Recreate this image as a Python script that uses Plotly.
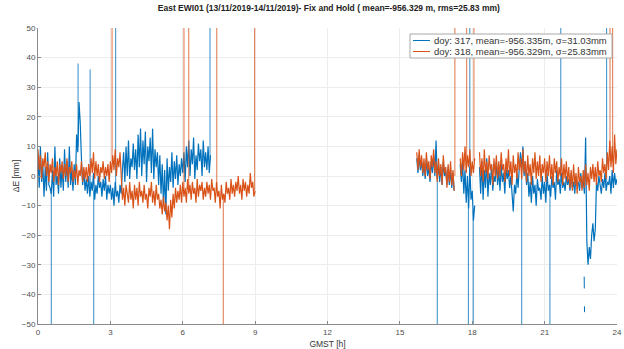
import plotly.graph_objects as go

# ---------------- data (mm), sampled every 0.05 h ----------------
STEP_H = 0.05
LEFT_START_H = 0.0
RIGHT_START_H = 15.70

# doy 318 (orange), 0.00 - 9.00 h
ORANGE_L = [
    9, 2, 7, -1, 6, 3, 8, 0, 5, -2, 4, 1, 6, -2, 3, 0, 5, -3, 4, 1,
    5, -1, 4, 0, 6, -2, 3, 1, 5, -2, 2, -1, 4, -3, 2, 0, 5, -2, 3, -1,
    3, -2, 4, 0, 6, 1, 8, -1, 5, 0, 4, -2, 3, 1, 5, -1, 3, 0, 4, -2,
    5, 1, 7, 2, 9, 0, 6, 3, 8, 1, -8, -4, -10, -3, -7, -9, -2, -8, -5, -11,
    -3, -8, -4, -10, -2, -7, -5, -9, -3, -8, -6, -11, -4, -7, -2, -9, -5, -10, -3, -8,
    -6, -11, -8, -13, -7, -12, -9, -15, -10, -18, -8, -14, -6, -11, -4, -9, -5, -8, -3, -9,
    -2, -7, -4, -9, -1, -6, -3, -8, -2, -6, -4, -9, -1, -7, -3, -5, -2, -8, -4, -7,
    -2, -6, -3, -8, -1, -5, -4, -9, -2, -7, -5, -11, -3, -8, -6, -9, -2, -6, -4, -8,
    -1, -6, -3, -7, -2, -5, 0, -6, -3, -8, -1, -5, -2, -7, -3, -6, 1, -4, -2, -7, -5,
]

# doy 317 (blue), 0.00 - 7.15 h
BLUE_L = [
    6, -4, 10, -2, 4, -7, 3, -5, 8, -3, -4, -6, 2, -7, 10, -3, 0, -6, 6, -4,
    3, -5, 9, -2, 5, -4, 10, -3, 2, -5, 4, -3, 14, 8, 25, 18, 6, -3, 2, -5,
    -1, -6, 0, -7, -2, -5, 1, -8, -3, -6, 0, -4, -2, -7, -1, -5, 0, -8, -3, -6,
    -3, -8, -4, -10, -2, -7, -5, -9, -3, -6, 2, 8, -2, 10, 0, 12, -1, 6, 3, 11,
    2, 9, -1, 14, 3, 16, 0, 12, 4, 15, -2, 10, 5, 13, 1, 16, -1, 9, 3, 8,
    -3, 7, -6, 4, -10, 2, -13, 6, -5, 3, -2, 8, -4, 5, -1, 7, -3, 4, 0, 6,
    1, 8, -2, 10, 3, 12, 0, 9, 4, 13, -1, 7, 2, 11, 5, 9, 0, 12, 3, 8,
    2, 10, 1, 7,
]

# doy 318 (orange), 15.70 - 24.00 h
ORANGE_R = [
    8, 2, 9, 3, 7, 1,
    6, 0, 8, 2, 5, -1, 7, 3, 9, 1, 5, -2, 6, 0, 4, -3, 7, 1, 3, -4,
    4, -2, 5, -3, 2, -5, None, None, None, None, 6, 0, 8, 2, 10, 1, 7, 3, 9, 0,
    5, 1, 6, None, None, None, 8, 0, 6, -2, 9, 1, 5, -1, 7, 2, 4, -3, 6, 0,
    7, -1, 5, 0, 8, 2, 4, -2, 6, 1, 9, 0, 5, -3, 7, 1, 4, -1, 8, 2,
    6, -1, 9, 1, 5, -2, 7, 0, 4, -3, 6, 1, 8, -1, 5, 0, 7, -2, 4, 1,
    6, -2, 5, 0, 7, -1, 4, -3, 6, 1, 5, -2, 3, 0, 6, -3, 4, -1, 5, -2,
    3, -4, 2, -5, 4, -3, 1, -6, 3, -2, 0, -5, 2, -4, 4, -3, 1, -5, 3, -1,
    4, -2, 3, -3, 5, 0, 2, -2, 6, 1, 4, -1, 8, 2, 12, 3, 10, 1, 14, 4,
    9,
]

# doy 317 (blue), 15.70 - 24.00 h
BLUE_R = [
    6, 1, 7, 2, 5, 0,
    4, -1, 6, 0, 3, -2, 5, 1, 7, 0, 12, -1, 4, -2, 3, -3, 5, 0, 2, -3,
    3, -3, 2, -4, 1, -5, None, None, None, None, 4, -2, 5, -6, 2, -9, 0, -11, 3, -8,
    -5, -15, -10, None, None, None, 3, -6, 5, -8, 2, -4, 6, -7, 1, -3, 4, -5, 0, -2,
    5, -3, 2, -5, 4, -2, 1, -6, 3, -1, 2, -4, 0, -8, -12, -3, -6, 1, -4, 3,
    8, 2, 10, 0, 5, -3, 1, -7, -2, -9, 0, -6, -3, -10, -1, -5, -4, -8, 0, -6,
    -2, -9, 1, -5, -3, -7, 0, -4, -2, -8, 2, -3, -1, -6, 1, -4, -2, -5, 0, -3,
    -1, -5, 1, -4, -2, -6, 0, -3, -2, -5, 1, -4, -1, -6, 13, -22, -30, -24, -28, -20,
    -16, -22, -18, -2, -5, 0, -3, -6, -1, -4, 1, -5, -2, -3, 0, -6, 2, -4, 1, -3,
    -1,
]

# outliers (mm): each goes from the series level to an off-scale value
BLUE_SPIKE_T = [0.55, 1.66, 2.16, 2.31, 3.22, 7.13, 16.55, 17.84, 17.90, 18.04, 20.05, 21.22, 21.67, 23.57]
BLUE_SPIKE_FROM = [-4, 10, -3, -5, -4, 5, 0, -8, 0, -12, 0, -3, -2, -2]
BLUE_SPIKE_TO = [-5000, 38, 36, -5000, 5000, 5000, -5000, -5000, 5000, -5000, -5000, -5000, 5000, 5000]
ORANGE_SPIKE_T = [3.07, 6.05, 6.25, 7.41, 7.68, 8.98, 17.28, 17.77, 18.07, 23.71, 23.82]
ORANGE_SPIKE_FROM = [5, -4, -4, -4, -6, -5, 0, 5, 5, 5, 5]
ORANGE_SPIKE_TO = [5000, 5000, 5000, 5000, -5000, 5000, 5000, 5000, 5000, 5000, 5000]

# isolated blue fragments near 22.65 h
BLUE_FRAG_T = [22.640, 22.645, None, 22.650, 22.655]
BLUE_FRAG_V = [-34, -38, None, -44, -46]

TITLE = "East EWI01 (13/11/2019-14/11/2019)- Fix and Hold ( mean=-956.329 m, rms=25.83 mm)"
NAME_317 = "doy: 317, mean=-956.335m, σ=31.03mm"
NAME_318 = "doy: 318, mean=-956.329m, σ=25.83mm"
X_TICKS = [0, 3, 6, 9, 12, 15, 18, 21, 24]
Y_TICKS = [-50, -40, -30, -20, -10, 0, 10, 20, 30, 40, 50]

BLUE = "#0072BD"
ORANGE = "#D95319"


def grid(start, n):
    return [round(start + i * STEP_H, 3) for i in range(n)]


def series(left, right):
    x = grid(LEFT_START_H, len(left)) + [None] + grid(RIGHT_START_H, len(right))
    y = list(left) + [None] + list(right)
    return x, y


def spikes(ts, frm, to):
    x, y = [], []
    for t, a, b in zip(ts, frm, to):
        x += [t, t, None]
        y += [a, b, None]
    return x, y


bx, by = series(BLUE_L, BLUE_R)
ox, oy = series(ORANGE_L, ORANGE_R)
bsx, bsy = spikes(BLUE_SPIKE_T, BLUE_SPIKE_FROM, BLUE_SPIKE_TO)
osx, osy = spikes(ORANGE_SPIKE_T, ORANGE_SPIKE_FROM, ORANGE_SPIKE_TO)

fig = go.Figure()
fig.add_trace(go.Scatter(x=bx, y=by, mode="lines", name=NAME_317, showlegend=False,
                         line=dict(color=BLUE, width=1.2), connectgaps=False))
fig.add_trace(go.Scatter(x=bsx, y=bsy, mode="lines", showlegend=False, opacity=0.8,
                         line=dict(color=BLUE, width=1), connectgaps=False))
fig.add_trace(go.Scatter(x=BLUE_FRAG_T, y=BLUE_FRAG_V, mode="lines", showlegend=False,
                         line=dict(color=BLUE, width=1), connectgaps=False))
fig.add_trace(go.Scatter(x=ox, y=oy, mode="lines", name=NAME_318, showlegend=False,
                         line=dict(color=ORANGE, width=1.2), connectgaps=False))
fig.add_trace(go.Scatter(x=osx, y=osy, mode="lines", showlegend=False, opacity=0.8,
                         line=dict(color=ORANGE, width=1), connectgaps=False))

FONT = "Liberation Sans, Arial, sans-serif"

# compact legend box (MATLAB style), placed in paper coordinates
L_X0, L_X1, L_Y0, L_Y1 = 0.6425, 0.9914, 0.8986, 0.9797
ROW_Y = [0.9578, 0.9206]
LINE_X0, LINE_X1, TEXT_X = 0.6477, 0.677, 0.6805
shapes = [dict(type="rect", xref="paper", yref="paper", x0=L_X0, x1=L_X1, y0=L_Y0, y1=L_Y1,
               fillcolor="white", line=dict(color="#a8a8a8", width=1), layer="above")]
annotations = []
for ry, col, name in zip(ROW_Y, [BLUE, ORANGE], [NAME_317, NAME_318]):
    shapes.append(dict(type="line", xref="paper", yref="paper", x0=LINE_X0, x1=LINE_X1, y0=ry, y1=ry,
                       line=dict(color=col, width=1), layer="above"))
    annotations.append(dict(text=name, xref="paper", yref="paper", x=TEXT_X, y=ry,
                            xanchor="left", yanchor="middle", showarrow=False,
                            font=dict(family=FONT, size=9.5, color="#333333")))

fig.update_layout(
    width=624, height=349,
    margin=dict(l=38, r=7, t=28, b=25),
    paper_bgcolor="white", plot_bgcolor="white",
    font=dict(family=FONT, size=8, color="#4d4d4d"),
    title=dict(text="<b>" + TITLE + "</b>", x=0.527, xanchor="center", y=0.977, yanchor="middle",
               font=dict(family=FONT, size=8.5, color="#222222")),
    showlegend=False,
    shapes=shapes,
    annotations=annotations,
    xaxis=dict(range=[0, 24], tickvals=X_TICKS, showgrid=True, gridcolor="#ececec",
               zeroline=False, showline=True, linecolor="#8a8a8a", linewidth=1,
               ticks="inside", ticklen=3, tickcolor="#8a8a8a", automargin=False,
               title=dict(text="GMST [h]", standoff=6, font=dict(size=8.5, color="#333333"))),
    yaxis=dict(range=[-50, 50], tickvals=Y_TICKS, showgrid=True, gridcolor="#ececec",
               zeroline=False, showline=True, linecolor="#8a8a8a", linewidth=1,
               ticks="inside", ticklen=3, tickcolor="#8a8a8a", automargin=False,
               title=dict(text="ΔE [mm]", standoff=0, font=dict(size=8.5, color="#333333"))),
)

fig.write_html("out.html")
